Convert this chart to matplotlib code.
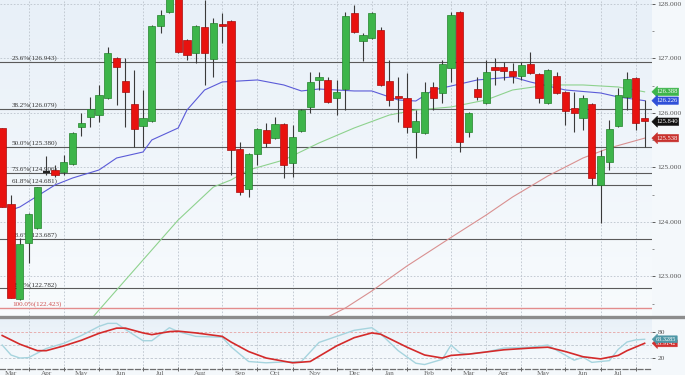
import numpy as np
import matplotlib
matplotlib.use("Agg")
import matplotlib.pyplot as plt
from matplotlib.lines import Line2D
from matplotlib.colors import LinearSegmentedColormap

# ---- weekly candles (index = week number on the chart)
opens = [125.725, 124.330, 122.587, 123.615, 123.890, 124.917, 124.954, 124.917, 125.064, 125.743,
         125.927, 125.963, 126.275, 127.009, 126.587, 126.165, 125.761, 125.853, 127.596, 127.853,
         128.220, 127.339, 127.101, 127.578, 126.991, 127.633, 127.688, 125.339, 124.606, 125.248,
         125.688, 125.541, 125.798, 125.083, 125.670, 126.110, 126.606, 126.606, 126.275, 126.440,
         127.835, 127.321, 127.376, 127.523, 126.587, 126.312, 126.275, 125.651, 125.633, 126.477,
         126.367, 126.826, 127.853, 125.651, 126.440, 126.183, 126.844, 126.844, 126.771, 126.679,
         126.899, 126.716, 126.183, 126.679, 126.385, 126.092, 125.908, 126.165, 124.679, 125.101,
         125.761, 126.294, 126.642, 125.908]
highs = [125.725, 124.495, 123.706, 124.160, 124.650, 125.211, 125.046, 125.229, 125.650, 126.000,
         126.294, 126.514, 127.211, 127.028, 127.009, 126.789, 126.422, 127.610, 127.890, 128.180,
         128.250, 127.350, 127.610, 128.073, 127.743, 127.835, 127.700, 125.468, 125.260, 125.720,
         125.817, 125.927, 125.810, 125.780, 126.070, 126.752, 126.752, 126.661, 126.606, 127.853,
         127.982, 127.468, 127.853, 127.578, 126.972, 126.661, 126.734, 126.055, 126.569, 126.569,
         126.972, 127.853, 127.870, 126.010, 126.661, 126.972, 127.009, 126.936, 126.917, 126.936,
         127.119, 126.730, 126.800, 126.752, 126.400, 126.385, 126.330, 126.180, 125.321, 125.872,
         126.459, 126.752, 126.660, 126.239]
lows = [124.275, 122.600, 122.569, 123.248, 123.880, 124.862, 124.826, 124.862, 125.050, 125.578,
        125.743, 125.835, 126.260, 126.147, 125.743, 125.376, 125.376, 125.840, 127.468, 127.840,
        127.100, 126.972, 126.917, 126.514, 126.661, 127.284, 124.862, 124.495, 124.459, 125.046,
        125.376, 125.530, 124.807, 124.826, 125.650, 126.000, 126.422, 126.183, 125.963, 126.055,
        127.470, 126.954, 127.360, 126.500, 126.128, 125.835, 125.633, 125.174, 125.620, 126.055,
        126.183, 126.569, 125.284, 125.560, 126.239, 126.170, 126.514, 126.606, 126.550, 126.606,
        126.720, 126.183, 126.170, 126.350, 125.780, 125.651, 125.688, 124.679, 123.982, 124.954,
        125.750, 126.055, 125.688, 125.376]
closes = [124.275, 122.606, 123.596, 124.147, 124.642, 124.917, 124.862, 125.101, 125.633, 125.817,
          126.073, 126.330, 127.101, 126.844, 126.385, 125.706, 125.908, 127.596, 127.798, 128.128,
          127.119, 127.064, 127.596, 127.101, 127.651, 127.596, 125.321, 124.550, 125.248, 125.706,
          125.450, 125.798, 125.046, 125.560, 126.055, 126.569, 126.661, 126.202, 126.385, 127.780,
          127.486, 127.431, 127.835, 126.514, 126.239, 126.275, 125.743, 125.853, 126.385, 126.275,
          126.899, 127.798, 125.468, 126.000, 126.294, 126.752, 126.789, 126.771, 126.679, 126.881,
          126.734, 126.275, 126.789, 126.367, 126.037, 126.000, 126.275, 124.807, 125.211, 125.706,
          126.330, 126.624, 125.817, 125.853]

# ---- moving averages (week, value)
ma_fast_wk = [1, 2, 6, 8, 11, 13, 16, 17, 20, 21, 23, 25, 29, 32, 34, 36, 40, 42, 44, 45,
              47, 49, 51, 54, 58, 60, 64, 68, 70, 73]
ma_fast = [124.220, 124.275, 124.679, 124.807, 124.954, 125.174, 125.284, 125.505, 125.725, 126.055,
           126.422, 126.569, 126.606, 126.514, 126.404, 126.440, 126.404, 126.404, 126.294, 126.239,
           126.220, 126.422, 126.495, 126.606, 126.661, 126.569, 126.422, 126.367, 126.294, 126.226]
ma_mid_wk = [10, 16, 20, 24, 26, 28, 32, 36, 40, 44, 47, 51, 55, 58, 62, 66, 70, 73]
ma_mid = [122.200, 123.303, 124.037, 124.642, 124.771, 124.954, 125.138, 125.450, 125.725, 125.963,
          126.055, 126.110, 126.239, 126.422, 126.514, 126.514, 126.477, 126.388]
ma_slow_wk = [37, 39, 42, 46, 51, 55, 58, 62, 66, 69, 73]
ma_slow = [122.257, 122.422, 122.734, 123.193, 123.716, 124.128, 124.459, 124.844, 125.174, 125.358, 125.538]

# ---- fibonacci levels
fib_vals = [126.943, 126.079, 125.380, 124.906, 124.681, 123.687, 122.782]
fib_text = ["23.6%(126.943)", "38.2%(126.079)", "50.0%(125.380)", "73.6%(124.906)",
            "61.8%(124.681)", "78.6%(123.687)", "88.6%(122.782)"]
fib_base = 122.423
fib_base_text = "100.0%(122.423)"

# ---- oscillator
osc_slow_wk = [0, 2, 4, 5, 7, 9, 11, 13, 14, 16, 17, 19, 20, 22, 25, 26, 28, 30, 33, 35,
               36, 38, 40, 42, 43, 46, 48, 50, 51, 53, 55, 57, 60, 62, 64, 66, 68, 70, 71, 73]
osc_slow = [72, 52, 37, 37, 48, 61, 77, 89, 89, 78, 74, 81, 82, 78, 70, 57, 35, 20, 9, 12,
            24, 48, 67, 78, 75, 45, 27, 20, 26, 29, 34, 39, 43, 45, 35, 23, 18, 26, 37, 54]
osc_fast_wk = [0, 1, 2, 3, 5, 7, 9, 11, 12, 13, 14, 16, 17, 19, 20, 22, 25, 26, 28, 30,
               32, 34, 36, 38, 40, 42, 43, 45, 47, 48, 50, 51, 52, 53, 55, 57, 60, 62, 63, 65,
               66, 67, 69, 70, 71, 72, 73]
osc_fast = [50, 27, 20, 21, 42, 54, 72, 93, 100, 100, 86, 60, 60, 90, 81, 70, 68, 46, 12, 9,
            11, 12, 56, 70, 84, 90, 76, 37, 8, 5, 17, 50, 32, 29, 34, 43, 45, 50, 38, 15,
            22, 10, 14, 40, 57, 62, 63.3]

month_starts = [3, 7, 11, 16, 20, 25, 29, 33, 38, 42, 46, 51, 55, 59, 64, 68, 72]
month_names = ["Mar", "Apr", "May", "Jun", "Jul", "Aug", "Sep", "Oct", "Nov", "Dec",
               "Jan", "Feb", "Mar", "Apr", "May", "Jun", "Jul"]

GREEN, GREEN_E = "#3DB54A", "#23822B"
RED, RED_E = "#E8120F", "#A80C0C"
GRID = "#BCC4CD"
SERIF = "Liberation Serif"

W, H = 685, 375
fig = plt.figure(figsize=(W / 100, H / 100), dpi=100, facecolor="#F4F8FB")
ax = fig.add_axes([0, 59 / H, 652 / W, 316 / H])
osc = fig.add_axes([0, 6 / H, 652 / W, 51 / H])

bg = LinearSegmentedColormap.from_list("bg", ["#E8F0F8", "#F8FBFD"])
for a in (ax, osc):
    a.imshow(np.linspace(0, 1, 64)[:, None], cmap=bg, extent=(0, 1, 0, 1),
             transform=a.transAxes, aspect="auto", zorder=0)
    for sp in a.spines.values():
        sp.set_visible(False)
    for m in month_starts:
        a.axvline(m, color=GRID, lw=0.6, ls=(0, (2, 2)), zorder=1)

# ---- price panel
for p in range(123, 129):
    ax.axhline(p, color=GRID, lw=0.6, ls=(0, (2, 2)), zorder=1)
for v in fib_vals:
    ax.axhline(v, color="#5A5A5A", lw=0.8, zorder=2)
ax.axhline(fib_base, color="#E38C8C", lw=1.0, zorder=2)
for v, t in zip(fib_vals, fib_text):
    ax.text(1.1, v + 0.015, t, fontsize=5.1, family=SERIF, color="#333333", va="bottom", zorder=3)
ax.text(1.1, fib_base + 0.015, fib_base_text, fontsize=5.1, family=SERIF, color="#D05050",
        va="bottom", zorder=3)

ax.plot(ma_fast_wk, ma_fast, color="#5B5BD8", lw=0.8, zorder=3)
ax.plot(ma_mid_wk, ma_mid, color="#8ED28E", lw=0.8, zorder=3)
ax.plot(ma_slow_wk, ma_slow, color="#D99090", lw=0.8, zorder=3)

wk = np.arange(len(opens))
o, h, l, c = map(np.array, (opens, highs, lows, closes))
ax.vlines(wk, l, h, color="#3A3A3A", lw=0.8, zorder=4)
up = c > o
dn = c < o
eq = c == o
ax.bar(wk[up], (c - o)[up], bottom=o[up], width=0.82, color=GREEN, edgecolor=GREEN_E, lw=0.5, zorder=5)
ax.bar(wk[dn], (c - o)[dn], bottom=o[dn], width=0.82, color=RED, edgecolor=RED_E, lw=0.5, zorder=5)
ax.hlines(c[eq], wk[eq] - 0.41, wk[eq] + 0.41, color="#222222", lw=1.6, zorder=5)

ax.set_xlim(-0.25, 73.84)
ax.set_ylim(122.275, 128.073)
ax.yaxis.tick_right()
ax.set_yticks(range(123, 129))
ax.set_yticklabels([f"{p:.3f}" for p in range(123, 129)], family=SERIF)
ax.set_yticks(np.arange(122.5, 128.1, 1.0), minor=True)
ax.tick_params(axis="y", which="major", length=2, width=0.6, pad=2, labelsize=5.4,
               colors="#444444", labelcolor="#555555")
ax.tick_params(axis="y", which="minor", length=1.5, width=0.5, colors="#666666")
ax.set_xticks([])

ytr = ax.get_yaxis_transform()
tags = [(126.388, "126.388", "#3DB54A"), (126.226, "126.226", "#3050D8"),
        (125.840, "125.840", "#111111"), (125.538, "125.538", "#C8322E")]
for v, t, col in tags:
    ax.text(1.006, v, t, transform=ytr, fontsize=4.8, family=SERIF, color="white",
            va="center", ha="left", clip_on=False, zorder=6,
            bbox=dict(boxstyle="larrow,pad=0.18", fc=col, ec=col, lw=0.4))

# ---- separator between panels
fig.add_artist(Line2D([0, 1], [58 / H, 58 / H], transform=fig.transFigure, color="#8C8C8C", lw=2.4))

# ---- oscillator panel
osc.axhline(80, color="#E7A3A3", lw=0.6, ls=(0, (3, 2)), zorder=1)
osc.axhline(50, color=GRID, lw=0.6, ls=(0, (3, 2)), zorder=1)
osc.axhline(20, color=GRID, lw=0.6, ls=(0, (3, 2)), zorder=1)
osc.plot(osc_fast_wk, osc_fast, color="#A6D4DE", lw=1.0, zorder=3)
osc.plot(osc_slow_wk, osc_slow, color="#D42A2A", lw=1.2, zorder=4)
osc.set_xlim(-0.25, 73.84)
osc.set_ylim(-5.3, 112.4)
osc.yaxis.tick_right()
osc.set_yticks([20, 80])
osc.set_yticklabels(["20", "80"], family=SERIF)
osc.tick_params(axis="y", length=2, width=0.6, pad=2, labelsize=5.4, colors="#444444", labelcolor="#555555")
osc.spines["bottom"].set_visible(True)
osc.spines["bottom"].set_color("#6E6E6E")
osc.spines["bottom"].set_linewidth(0.9)
osc.spines["bottom"].set_linestyle((0, (4, 2)))
bounds = [-1] + month_starts
mids = [(bounds[k] + bounds[k + 1]) / 2 for k in range(len(month_starts))]
osc.set_xticks(mids)
osc.set_xticklabels(month_names, family=SERIF)
osc.set_xticks(month_starts, minor=True)
osc.tick_params(axis="x", which="major", length=0, pad=1.5, labelsize=5.2, labelcolor="#666666")
osc.tick_params(axis="x", which="minor", length=3, width=0.6, direction="inout", colors="#555555")
otr = osc.get_yaxis_transform()
osc.text(1.006, 63.33, "63.3285", transform=otr, fontsize=4.5, family=SERIF, color="white",
         va="center", ha="left", clip_on=False, zorder=6,
         bbox=dict(boxstyle="larrow,pad=0.15", fc="#4E97A6", ec="#4E97A6", lw=0.4))
osc.text(1.006, 53.9, "53.9142", transform=otr, fontsize=4.5, family=SERIF, color="white",
         va="center", ha="left", clip_on=False, zorder=5,
         bbox=dict(boxstyle="larrow,pad=0.15", fc="#D0302F", ec="#D0302F", lw=0.4))

fig.savefig("out.png", dpi=100, facecolor=fig.get_facecolor())
